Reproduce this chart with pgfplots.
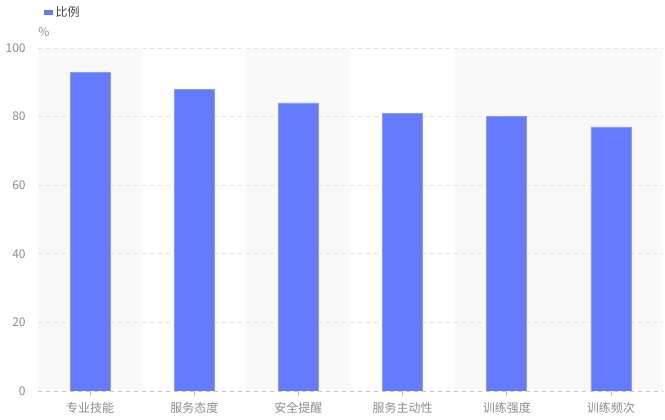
\documentclass[border=0pt]{standalone}
\usepackage{fontspec}
\setmainfont{Noto Sans CJK SC}
\usepackage{pgfplots}
\pgfplotsset{compat=1.18}
\definecolor{barblue}{HTML}{647BFF}
\definecolor{bandgray}{HTML}{F9F9F9}
\definecolor{gridgray}{HTML}{E3E3E3}
\definecolor{labelgray}{HTML}{8C8C8C}
\definecolor{legendtext}{HTML}{444444}
\begin{document}
\begin{tikzpicture}
\begin{axis}[
    name=ax,
    set layers,
    scale only axis,
    width=468.75pt,
    height=257.25pt,
    xmin=-0.5, xmax=5.5,
    ymin=0, ymax=100,
    enlargelimits=false,
    ybar,
    bar width=30pt,
    xtick=data,
    xticklabels={专业技能,服务态度,安全提醒,服务主动性,训练强度,训练频次},
    ytick={0,20,40,60,80,100},
    ymajorgrids,
    grid style={dashed, gridgray, line width=0.6pt},
    separate axis lines,
    axis x line*=bottom,
    axis y line*=left,
    y axis line style={draw=none},
    x axis line style={draw=gray!45, dashed, line width=0.6pt},
    ytick style={draw=none},
    xtick style={draw=gray!45, line width=0.6pt},
    tick align=outside,
    major tick length=3.75pt,
    tick label style={font=\fontsize{9}{11}\selectfont, labelgray},
    yticklabel style={/pgf/number format/assume math mode=true, xshift=-2pt},
    xticklabel style={yshift=-1pt},
    legend style={at={(rel axis cs:0,1)}, anchor=west, xshift=4.5pt, yshift=27pt,
        draw=none, fill=none, font=\fontsize{9}{11}\selectfont\color{legendtext},
        inner sep=0pt},
    legend image code/.code={\fill[barblue] (0pt,-1.5pt) rectangle (6pt,1.5pt);},
]
\begin{pgfonlayer}{axis background}
\fill[bandgray] (axis cs:-0.5,0) rectangle (axis cs:0.5,100);
\fill[bandgray] (axis cs:1.5,0) rectangle (axis cs:2.5,100);
\fill[bandgray] (axis cs:3.5,0) rectangle (axis cs:5.5,100);
\end{pgfonlayer}
\addplot[fill=barblue, draw=barblue!75!white, line width=0.5pt] coordinates {
    (0,93) (1,88) (2,84) (3,81) (4,80) (5,77)
};
\addlegendentry{比例}
\end{axis}
\node[anchor=west, labelgray, font=\fontsize{9}{11}\selectfont, inner sep=0pt]
    at ([yshift=12pt]ax.north west) {\%};
\pgfresetboundingbox
\path (-28.5pt,-21.75pt) rectangle (470.25pt,293.25pt);
\end{tikzpicture}
\end{document}
